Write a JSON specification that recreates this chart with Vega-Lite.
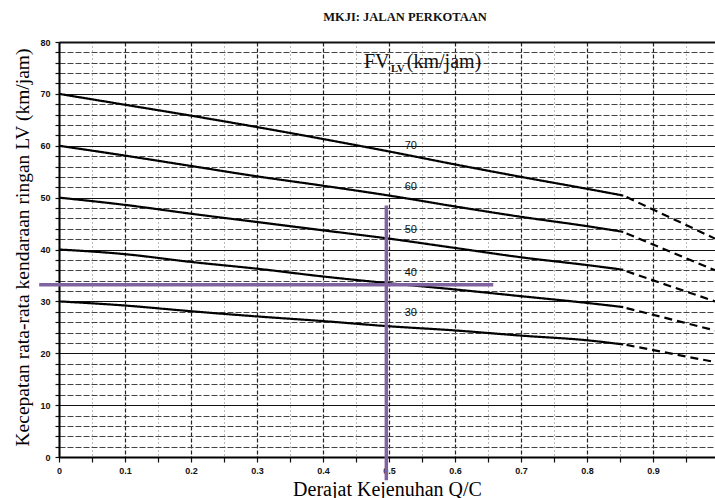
{
  "$schema": "https://vega.github.io/schema/vega-lite/v6.json",
  "width": 656,
  "height": 415,
  "autosize": "none",
  "padding": {"left": 59, "top": 42, "right": 0, "bottom": 41},
  "background": "white",
  "title": {"text": "MKJI:  JALAN PERKOTAAN", "font": "Liberation Serif", "fontSize": 12.5, "fontWeight": "bold", "color": "#111", "anchor": "middle", "dx": 18, "offset": 5, "baseline": "alphabetic"},
  "config": {"view": {"stroke": null}},
  "datasets": {
    "curves": [
      {"fv": 70, "seg": "solid", "x": 0, "y": 70},
      {"fv": 70, "seg": "solid", "x": 0.1, "y": 67.9},
      {"fv": 70, "seg": "solid", "x": 0.2, "y": 65.8},
      {"fv": 70, "seg": "solid", "x": 0.3, "y": 63.6},
      {"fv": 70, "seg": "solid", "x": 0.4, "y": 61.3},
      {"fv": 70, "seg": "solid", "x": 0.5, "y": 58.9},
      {"fv": 70, "seg": "solid", "x": 0.6, "y": 56.4},
      {"fv": 70, "seg": "solid", "x": 0.7, "y": 54.0},
      {"fv": 70, "seg": "solid", "x": 0.8, "y": 51.7},
      {"fv": 70, "seg": "solid", "x": 0.855, "y": 50.4},
      {"fv": 70, "seg": "dashed", "x": 0.86, "y": 50.1},
      {"fv": 70, "seg": "dashed", "x": 0.994, "y": 42.1},
      {"fv": 60, "seg": "solid", "x": 0, "y": 60},
      {"fv": 60, "seg": "solid", "x": 0.1, "y": 58.1},
      {"fv": 60, "seg": "solid", "x": 0.2, "y": 56.1},
      {"fv": 60, "seg": "solid", "x": 0.3, "y": 54.1},
      {"fv": 60, "seg": "solid", "x": 0.4, "y": 52.3},
      {"fv": 60, "seg": "solid", "x": 0.5, "y": 50.4},
      {"fv": 60, "seg": "solid", "x": 0.6, "y": 48.3},
      {"fv": 60, "seg": "solid", "x": 0.7, "y": 46.3},
      {"fv": 60, "seg": "solid", "x": 0.8, "y": 44.5},
      {"fv": 60, "seg": "solid", "x": 0.855, "y": 43.4},
      {"fv": 60, "seg": "dashed", "x": 0.86, "y": 43.1},
      {"fv": 60, "seg": "dashed", "x": 0.994, "y": 36.0},
      {"fv": 50, "seg": "solid", "x": 0, "y": 50},
      {"fv": 50, "seg": "solid", "x": 0.1, "y": 48.6},
      {"fv": 50, "seg": "solid", "x": 0.2, "y": 46.9},
      {"fv": 50, "seg": "solid", "x": 0.3, "y": 45.3},
      {"fv": 50, "seg": "solid", "x": 0.4, "y": 43.7},
      {"fv": 50, "seg": "solid", "x": 0.5, "y": 42.1},
      {"fv": 50, "seg": "solid", "x": 0.6, "y": 40.3},
      {"fv": 50, "seg": "solid", "x": 0.7, "y": 38.5},
      {"fv": 50, "seg": "solid", "x": 0.8, "y": 37.0},
      {"fv": 50, "seg": "solid", "x": 0.855, "y": 36.1},
      {"fv": 50, "seg": "dashed", "x": 0.86, "y": 35.8},
      {"fv": 50, "seg": "dashed", "x": 0.994, "y": 30.0},
      {"fv": 40, "seg": "solid", "x": 0, "y": 40},
      {"fv": 40, "seg": "solid", "x": 0.1, "y": 39.1},
      {"fv": 40, "seg": "solid", "x": 0.2, "y": 37.6},
      {"fv": 40, "seg": "solid", "x": 0.3, "y": 36.3},
      {"fv": 40, "seg": "solid", "x": 0.4, "y": 34.8},
      {"fv": 40, "seg": "solid", "x": 0.5, "y": 33.5},
      {"fv": 40, "seg": "solid", "x": 0.6, "y": 32.3},
      {"fv": 40, "seg": "solid", "x": 0.7, "y": 31.0},
      {"fv": 40, "seg": "solid", "x": 0.8, "y": 29.7},
      {"fv": 40, "seg": "solid", "x": 0.855, "y": 28.9},
      {"fv": 40, "seg": "dashed", "x": 0.86, "y": 28.7},
      {"fv": 40, "seg": "dashed", "x": 0.994, "y": 24.4},
      {"fv": 30, "seg": "solid", "x": 0, "y": 30},
      {"fv": 30, "seg": "solid", "x": 0.1, "y": 29.2},
      {"fv": 30, "seg": "solid", "x": 0.2, "y": 28.1},
      {"fv": 30, "seg": "solid", "x": 0.3, "y": 27.1},
      {"fv": 30, "seg": "solid", "x": 0.4, "y": 26.2},
      {"fv": 30, "seg": "solid", "x": 0.5, "y": 25.2},
      {"fv": 30, "seg": "solid", "x": 0.6, "y": 24.4},
      {"fv": 30, "seg": "solid", "x": 0.7, "y": 23.4},
      {"fv": 30, "seg": "solid", "x": 0.8, "y": 22.5},
      {"fv": 30, "seg": "solid", "x": 0.855, "y": 21.7},
      {"fv": 30, "seg": "dashed", "x": 0.86, "y": 21.6},
      {"fv": 30, "seg": "dashed", "x": 0.994, "y": 18.3}
    ],
    "labels": [
      {"t": "70", "x": 0.533, "y": 60},
      {"t": "60", "x": 0.533, "y": 52},
      {"t": "50", "x": 0.533, "y": 43.7},
      {"t": "40", "x": 0.533, "y": 35.5},
      {"t": "30", "x": 0.533, "y": 27.7}
    ],
    "fvMain": [
      {"t": "FV", "x": 0.462, "y": 74.9},
      {"t": "(km/jam)", "x": 0.527, "y": 74.9}
    ],
    "fvSub": [
      {"t": "LV", "x": 0.503, "y": 74.3}
    ],
    "vguide": [{"x": 0.496, "y": -4.5, "y2": 48.5}],
    "hguide": [{"x": -0.03, "x2": 0.658, "y": 33.2}]
  },
  "layer": [
    {
      "data": {"name": "curves"},
      "mark": {"type": "line", "color": "#000", "strokeWidth": 2.2, "interpolate": "monotone"},
      "encoding": {
        "x": {
          "field": "x", "type": "quantitative",
          "scale": {"domain": [0, 0.994], "nice": false, "zero": false},
          "axis": {
            "values": [0, 0.05, 0.1, 0.15, 0.2, 0.25, 0.3, 0.35, 0.4, 0.45, 0.5, 0.55, 0.6, 0.65, 0.7, 0.75, 0.8, 0.85, 0.9, 0.95],
            "tickCount": 200,
            "labelExpr": "abs(datum.value*10 - round(datum.value*10)) < 0.001 ? format(datum.value, '.1~f') : ''",
            "labelFont": "Liberation Sans", "labelFontWeight": "bold", "labelFontSize": 9, "labelColor": "#111",
            "labelPadding": 4, "labelFlush": false, "labelOverlap": false,
            "tickSize": 5, "tickColor": "#111", "tickWidth": 1.2,
            "domainColor": "#000", "domainWidth": 2,
            "grid": true,
            "gridColor": {"condition": {"test": "abs(datum.value*10 - round(datum.value*10)) < 0.001", "value": "#222"}, "value": "#777"},
            "gridDash": {"condition": {"test": "abs(datum.value*10 - round(datum.value*10)) < 0.001", "value": [4, 2]}, "value": [1, 3]},
            "gridWidth": {"condition": {"test": "abs(datum.value*10 - round(datum.value*10)) < 0.001", "value": 1.2}, "value": 1},
            "title": "Derajat Kejenuhan Q/C",
            "titleFont": "Liberation Serif", "titleFontSize": 20, "titleFontWeight": "normal", "titleColor": "#000",
            "titleX": 328, "titleY": 38, "titleBaseline": "alphabetic", "titleAlign": "center"
          }
        },
        "y": {
          "field": "y", "type": "quantitative",
          "scale": {"domain": [0, 80], "nice": false},
          "axis": {
            "values": [0, 2, 4, 6, 8, 10, 12, 14, 16, 18, 20, 22, 24, 26, 28, 30, 32, 34, 36, 38, 40, 42, 44, 46, 48, 50, 52, 54, 56, 58, 60, 62, 64, 66, 68, 70, 72, 74, 76, 78, 80],
            "tickCount": 200,
            "labelExpr": "datum.value % 10 === 0 ? format(datum.value, 'd') : ''",
            "labelFont": "Liberation Sans", "labelFontWeight": "bold", "labelFontSize": 9, "labelColor": "#111",
            "labelPadding": 5, "labelOverlap": false, "labelFlush": false,
            "tickSize": 4, "tickColor": "#111", "tickWidth": 1.2,
            "domainColor": "#000", "domainWidth": 2,
            "grid": true,
            "gridColor": {"condition": {"test": "datum.value % 10 === 0", "value": "#111"}, "value": "#444"},
            "gridDash": {"condition": {"test": "datum.value % 10 === 0", "value": []}, "value": [6, 2]},
            "gridWidth": {"condition": {"test": "datum.value === 80", "value": 2.2}, "value": 1.2},
            "title": "Kecepatan rata-rata kendaraan ringan LV (km/jam)",
            "titleFont": "Liberation Serif", "titleFontSize": 19.5, "titleFontWeight": "normal", "titleColor": "#000",
            "titleX": -37, "titleY": 205, "titleAngle": -90, "titleBaseline": "middle", "titleAlign": "center"
          }
        },
        "detail": {"field": "fv"},
        "strokeDash": {"field": "seg", "type": "nominal", "scale": {"domain": ["solid", "dashed"], "range": [[1, 0], [8, 5]]}, "legend": null}
      }
    },
    {
      "data": {"name": "labels"},
      "mark": {"type": "text", "font": "Liberation Sans", "fontSize": 11, "color": "#111", "align": "center", "baseline": "middle"},
      "encoding": {
        "x": {"field": "x", "type": "quantitative"},
        "y": {"field": "y", "type": "quantitative"},
        "text": {"field": "t"}
      }
    },
    {
      "data": {"name": "fvMain"},
      "mark": {"type": "text", "font": "Liberation Serif", "fontSize": 20, "color": "#111", "align": "left", "baseline": "alphabetic"},
      "encoding": {
        "x": {"field": "x", "type": "quantitative"},
        "y": {"field": "y", "type": "quantitative"},
        "text": {"field": "t"}
      }
    },
    {
      "data": {"name": "fvSub"},
      "mark": {"type": "text", "font": "Liberation Serif", "fontSize": 10.5, "fontWeight": "bold", "color": "#111", "align": "left", "baseline": "alphabetic"},
      "encoding": {
        "x": {"field": "x", "type": "quantitative"},
        "y": {"field": "y", "type": "quantitative"},
        "text": {"field": "t"}
      }
    },
    {
      "data": {"name": "vguide"},
      "mark": {"type": "rule", "color": "#8064A2", "strokeWidth": 3.5},
      "encoding": {
        "x": {"field": "x", "type": "quantitative"},
        "y": {"field": "y", "type": "quantitative"},
        "y2": {"field": "y2"}
      }
    },
    {
      "data": {"name": "hguide"},
      "mark": {"type": "rule", "color": "#8064A2", "strokeWidth": 3.5},
      "encoding": {
        "x": {"field": "x", "type": "quantitative"},
        "x2": {"field": "x2"},
        "y": {"field": "y", "type": "quantitative"}
      }
    }
  ]
}
